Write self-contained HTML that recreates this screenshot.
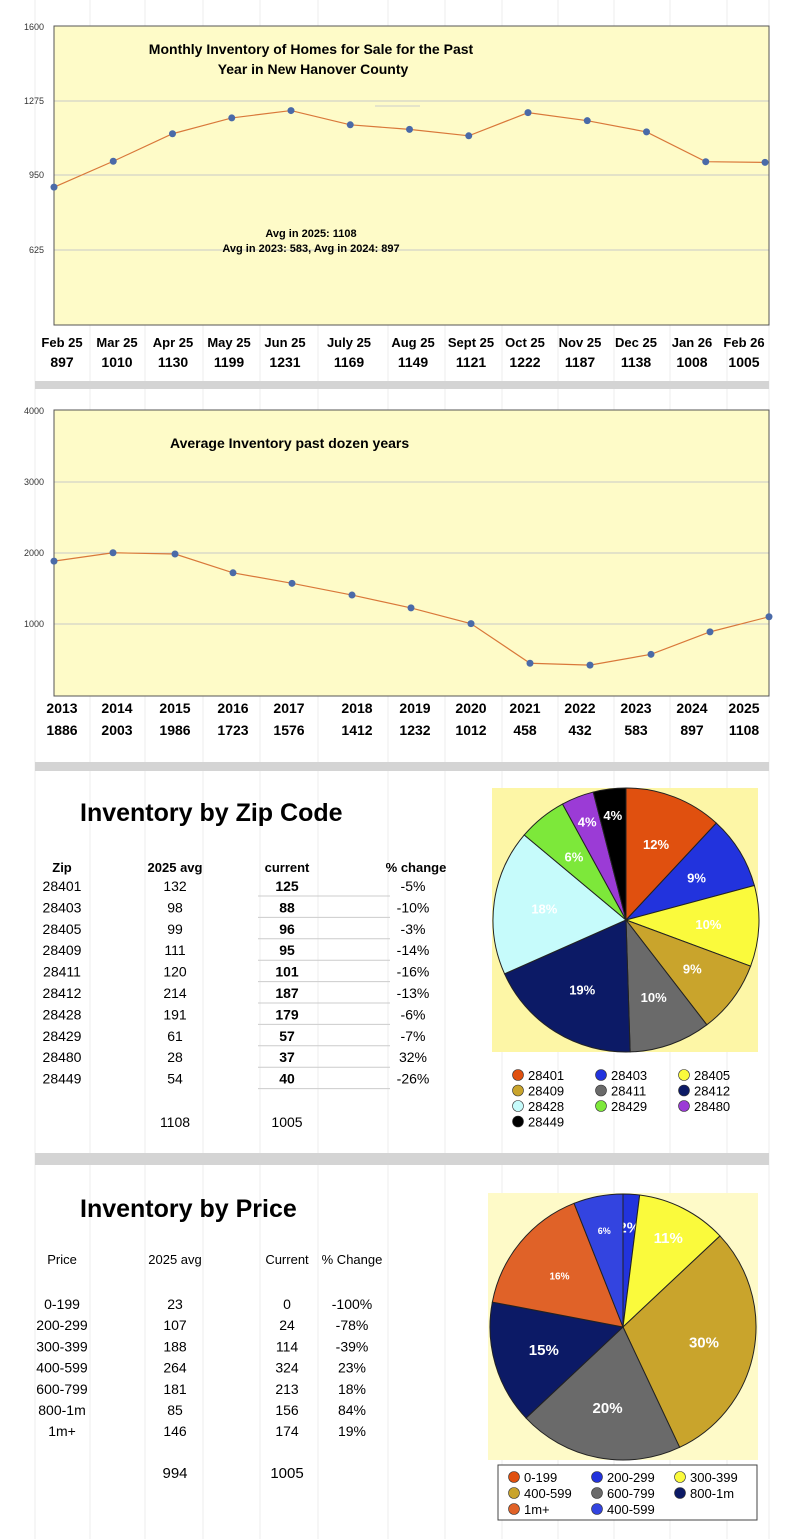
<!DOCTYPE html>
<html><head><meta charset="utf-8">
<style>
body{margin:0;background:#fff;}
svg{display:block;font-family:"Liberation Sans",sans-serif;}
</style></head><body>
<svg id="s" width="800" height="1539" viewBox="0 0 800 1539" xmlns="http://www.w3.org/2000/svg">
<g stroke="#eee" stroke-width="1" id="bggrid"></g>

<!-- Chart 1 -->
<rect x="54" y="26" width="715" height="299" fill="#fefbc8"/>
<g stroke="#c8c8c8"><line x1="54" y1="101" x2="769" y2="101"/><line x1="54" y1="175" x2="769" y2="175"/><line x1="54" y1="250" x2="769" y2="250"/></g>
<rect x="54" y="26" width="715" height="299" fill="none" stroke="#555" stroke-width="1"/>
<g font-size="9" fill="#333" text-anchor="end"><text x="44" y="30">1600</text><text x="44" y="104">1275</text><text x="44" y="178">950</text><text x="44" y="253">625</text></g>
<g font-size="14" font-weight="bold" text-anchor="middle"><text x="311" y="54">Monthly Inventory of Homes for Sale for the Past</text><text x="313" y="74">Year in New Hanover County</text></g>
<line x1="375" y1="106" x2="420" y2="106" stroke="#ccc"/>
<g font-size="11" font-weight="bold" text-anchor="middle"><text x="311" y="237">Avg in 2025: 1108</text><text x="311" y="252">Avg in 2023: 583, Avg in 2024: 897</text></g>
<polyline id="l1" fill="none" stroke="#d9783a" stroke-width="1.2"/>
<g id="p1" fill="#4a6aa8"></g>
<g font-size="13" font-weight="bold" text-anchor="middle" id="lab1"></g>
<rect x="35" y="381" width="734" height="8" fill="#d4d4d4"/>

<!-- Chart 2 -->
<rect x="54" y="410" width="715" height="286" fill="#fefbc8"/>
<g stroke="#c8c8c8"><line x1="54" y1="482" x2="769" y2="482"/><line x1="54" y1="553" x2="769" y2="553"/><line x1="54" y1="624" x2="769" y2="624"/></g>
<rect x="54" y="410" width="715" height="286" fill="none" stroke="#555"/>
<g font-size="9" fill="#333" text-anchor="end"><text x="44" y="414">4000</text><text x="44" y="485">3000</text><text x="44" y="556">2000</text><text x="44" y="627">1000</text></g>
<text x="170" y="448" font-size="14" font-weight="bold">Average Inventory past dozen years</text>
<polyline id="l2" fill="none" stroke="#d9783a" stroke-width="1.2"/>
<g id="p2" fill="#4a6aa8"></g>
<g font-size="14" font-weight="bold" text-anchor="middle" id="lab2"></g>
<rect x="35" y="762" width="734" height="9" fill="#d4d4d4"/>

<!-- Zip section -->
<text x="80" y="821" font-size="25" font-weight="bold">Inventory by Zip Code</text>
<g font-size="13" font-weight="bold" text-anchor="middle"><text x="62" y="872">Zip</text><text x="175" y="872">2025 avg</text><text x="287" y="872">current</text><text x="416" y="872">% change</text></g>
<g id="zt" font-size="14" text-anchor="middle"></g>
<g font-size="14" text-anchor="middle"><text x="175" y="1127">1108</text><text x="287" y="1127">1005</text></g>
<rect x="492" y="788" width="266" height="264" fill="#fdf6a6"/>
<g id="pie1" stroke="#222" stroke-width="1"></g>
<g id="leg1" font-size="13"></g>
<rect x="35" y="1153" width="734" height="12" fill="#d4d4d4"/>

<!-- Price section -->
<text x="80" y="1217" font-size="25" font-weight="bold">Inventory by Price</text>
<g font-size="13" text-anchor="middle"><text x="62" y="1264">Price</text><text x="175" y="1264">2025 avg</text><text x="287" y="1264">Current</text><text x="352" y="1264">% Change</text></g>
<g id="pt" font-size="14" text-anchor="middle"></g>
<g font-size="15" text-anchor="middle"><text x="175" y="1478">994</text><text x="287" y="1478">1005</text></g>
<rect x="488" y="1193" width="270" height="267" fill="#fefac8"/>
<g id="pie2" stroke="#222" stroke-width="1"></g>
<rect x="498" y="1465" width="259" height="55" fill="#fff" stroke="#444"/>
<g id="leg2" font-size="13"></g>
</svg>
<script>
const NS="http://www.w3.org/2000/svg";
function el(p,t,a,txt){const e=document.createElementNS(NS,t);for(const k in a)e.setAttribute(k,a[k]);if(txt!=null)e.textContent=txt;document.getElementById(p).appendChild(e);return e;}
// bg grid
for(let x of [35,90,145,203,260,318,388,445,502,558,614,670,727,769])el("bggrid","line",{x1:x,y1:0,x2:x,y2:1539});
// chart1
const m=["Feb 25","Mar 25","Apr 25","May 25","Jun 25","July 25","Aug 25","Sept 25","Oct 25","Nov 25","Dec 25","Jan 26","Feb 26"];
const v1=[897,1010,1130,1199,1231,1169,1149,1121,1222,1187,1138,1008,1005];
const lx1=[62,117,173,229,285,349,413,471,525,580,636,692,744];
let pts=[];
v1.forEach((v,i)=>{const x=54+i*(711/12);const y=175-(v-950)*74.5/325;pts.push(x+","+y);el("p1","circle",{cx:x,cy:y,r:3.5});
el("lab1","text",{x:lx1[i],y:347,"font-size":13},m[i]);el("lab1","text",{x:lx1[i],y:367,"font-size":14},v);});
document.getElementById("l1").setAttribute("points",pts.join(" "));
// chart2
const yrs=[2013,2014,2015,2016,2017,2018,2019,2020,2021,2022,2023,2024,2025];
const v2=[1886,2003,1986,1723,1576,1412,1232,1012,458,432,583,897,1108];
const xs2=[54,113,175,233,292,352,411,471,530,590,651,710,769];
const lx2=[62,117,175,233,289,357,415,471,525,580,636,692,744];
pts=[];
v2.forEach((v,i)=>{const y=696-v*0.0715;pts.push(xs2[i]+","+y);el("p2","circle",{cx:xs2[i],cy:y,r:3.5});
el("lab2","text",{x:lx2[i],y:713},yrs[i]);el("lab2","text",{x:lx2[i],y:735},v);});
document.getElementById("l2").setAttribute("points",pts.join(" "));
// zip table
const zr=[["28401",132,125,"-5%"],["28403",98,88,"-10%"],["28405",99,96,"-3%"],["28409",111,95,"-14%"],["28411",120,101,"-16%"],["28412",214,187,"-13%"],["28428",191,179,"-6%"],["28429",61,57,"-7%"],["28480",28,37,"32%"],["28449",54,40,"-26%"]];
zr.forEach((r,i)=>{const y=891+i*21.4;el("zt","text",{x:62,y:y},r[0]);el("zt","text",{x:175,y:y},r[1]);el("zt","text",{x:287,y:y,"font-weight":"bold"},r[2]);el("zt","text",{x:413,y:y},r[3]);
el("zt","line",{x1:258,y1:y+5,x2:390,y2:y+5,stroke:"#ccc"});});
const pr=[["0-199",23,0,"-100%"],["200-299",107,24,"-78%"],["300-399",188,114,"-39%"],["400-599",264,324,"23%"],["600-799",181,213,"18%"],["800-1m",85,156,"84%"],["1m+",146,174,"19%"]];
pr.forEach((r,i)=>{const y=1309+i*21.2;el("pt","text",{x:62,y:y},r[0]);el("pt","text",{x:175,y:y},r[1]);el("pt","text",{x:287,y:y},r[2]);el("pt","text",{x:352,y:y},r[3]);});
function pie(id,cx,cy,rx,ry,sl){let tot=sl.reduce((a,s)=>a+s[0],0),a=0;
sl.forEach(s=>{const a0=a/tot*2*Math.PI,a1=(a+s[0])/tot*2*Math.PI;a+=s[0];
const p=(t)=>[cx+rx*Math.sin(t),cy-ry*Math.cos(t)];const [x0,y0]=p(a0),[x1,y1]=p(a1);
el(id,"path",{d:`M${cx},${cy}L${x0},${y0}A${rx},${ry} 0 ${a1-a0>Math.PI?1:0} 1 ${x1},${y1}Z`,fill:s[1]});
const am=(a0+a1)/2,rr=s[4]||0.62;el(id,"text",{x:cx+rx*rr*Math.sin(am),y:cy-ry*rr*Math.cos(am)+5,"text-anchor":"middle","font-size":s[3]||13,"font-weight":"bold",fill:"#fff",stroke:"none"},s[2]);});}
pie("pie1",626,920,133,132,[[12,"#e0500f","12%"],[9,"#2233dd","9%"],[10,"#fafa3c","10%"],[9,"#c9a42c","9%"],[10,"#6a6a6a","10%"],[19,"#0c1a66","19%"],[18,"#c6fbfb","18%"],[6,"#7de83a","6%"],[4,"#9b3bd6","4%",13,0.8],[4,"#000","4%",13,0.8]]);
pie("pie2",623,1327,133,133,[[2,"#2233dd","2%",15,0.75],[11,"#fafa3c","11%",15,0.75],[30,"#c9a42c","30%",15],[20,"#6a6a6a","20%",15],[15,"#0c1a66","15%",15],[16,"#e06228","16%",10],[6,"#3344e0","6%",9,0.75]]);
function leg(id,items,x0,y0,dx,dy){items.forEach((it,i)=>{const x=x0+(i%3)*dx,y=y0+Math.floor(i/3)*dy;el(id,"circle",{cx:x,cy:y,r:5.5,fill:it[1],stroke:"#333","stroke-width":0.6});el(id,"text",{x:x+10,y:y+5},it[0]);});}
leg("leg1",[["28401","#e0500f"],["28403","#2233dd"],["28405","#fafa3c"],["28409","#c9a42c"],["28411","#6a6a6a"],["28412","#0c1a66"],["28428","#c6fbfb"],["28429","#7de83a"],["28480","#9b3bd6"],["28449","#000"]],518,1075,83,15.5);
leg("leg2",[["0-199","#e0500f"],["200-299","#2233dd"],["300-399","#fafa3c"],["400-599","#c9a42c"],["600-799","#6a6a6a"],["800-1m","#0c1a66"],["1m+","#e06228"],["400-599","#3344e0"]],514,1477,83,16);
</script>
</body></html>
